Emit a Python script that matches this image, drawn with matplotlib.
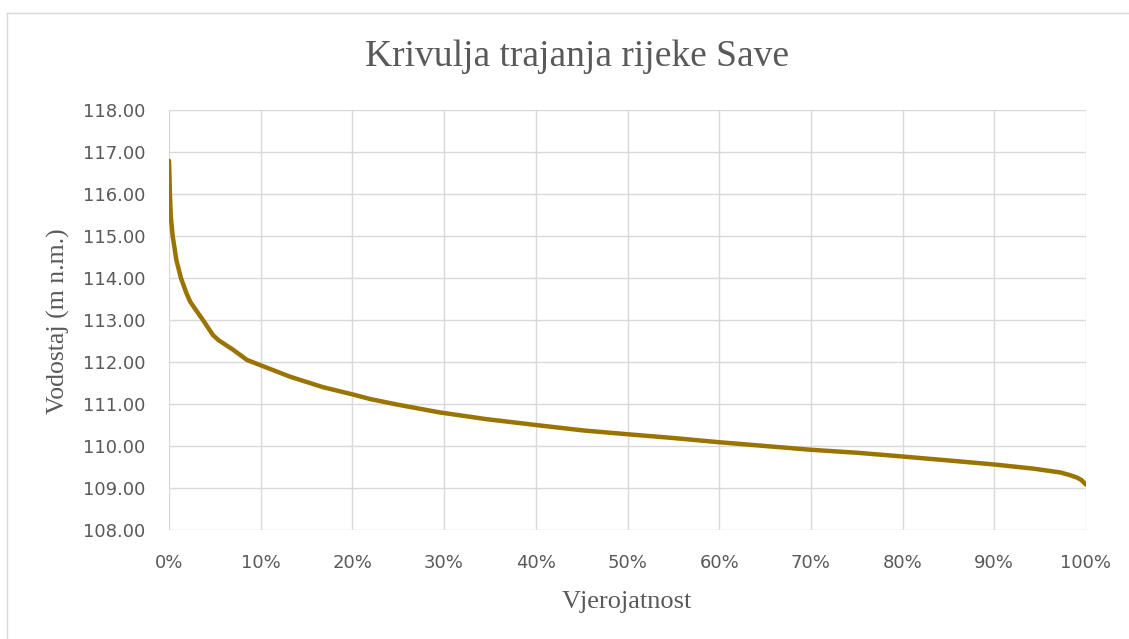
import matplotlib
matplotlib.use("Agg")
import matplotlib.pyplot as plt
from matplotlib.lines import Line2D
from matplotlib.ticker import PercentFormatter, MultipleLocator

# probability of exceedance (%) and water level (m a.s.l.)
probability = [0, 0.05, 0.1, 0.2, 0.4, 0.8, 1.3, 1.9, 2.3, 2.8, 3.7, 4.8, 5.4,
               7.0, 8.5, 9.9, 13.2, 16.8, 20, 21.9, 24.8, 29.5, 34.6, 40, 45.2,
               50, 55, 60, 65, 70, 75, 80, 84.8, 90, 94.3, 97.2, 98.2, 99,
               99.5, 100]
level = [116.79, 116.45, 116.0, 115.46, 115.0, 114.43, 114.0, 113.64, 113.44,
         113.28, 113.0, 112.64, 112.52, 112.29, 112.05, 111.93, 111.65, 111.40,
         111.23, 111.12, 110.99, 110.80, 110.64, 110.50, 110.37, 110.28, 110.19,
         110.09, 110.0, 109.91, 109.84, 109.75, 109.66, 109.56, 109.46, 109.37,
         109.31, 109.25, 109.19, 109.08]

title = "Krivulja trajanja rijeke Save"
xlabel = "Vjerojatnost"
ylabel = "Vodostaj (m n.m.)"

grey = "#595959"
grid_col = "#d9d9d9"
serif = "Liberation Serif"

fig = plt.figure(figsize=(11.29, 6.39), dpi=100)
ax = fig.add_axes([169 / 1129, 1 - 530 / 639, (1086 - 169) / 1129, (530 - 110) / 639])

ax.plot([p / 100 for p in probability], level, color="#9a7400", linewidth=3.2,
        solid_joinstyle="round", solid_capstyle="round", zorder=3)

ax.set_xlim(0, 1)
ax.set_ylim(108, 118)
ax.xaxis.set_major_locator(MultipleLocator(0.1))
ax.xaxis.set_major_formatter(PercentFormatter(1.0, decimals=0))
ax.yaxis.set_major_locator(MultipleLocator(1))
ax.yaxis.set_major_formatter(lambda v, pos: f"{v:.2f}")

ax.grid(True, color=grid_col, linewidth=1.0)
ax.set_axisbelow(True)
for s in ax.spines.values():
    s.set_visible(False)
ax.tick_params(length=0, labelsize=13, labelcolor=grey)
ax.tick_params(axis="y", pad=17)
ax.tick_params(axis="x", pad=17)

fig.text(577 / 1129, 1 - 57 / 639, title, ha="center", va="center",
         fontsize=27, color=grey, family=serif)
fig.text(627 / 1129, 1 - 602 / 639, xlabel, ha="center", va="center",
         fontsize=19, color=grey, family=serif)
fig.text(58 / 1129, 1 - 321 / 639, ylabel, ha="center", va="center",
         fontsize=18.5, color=grey, family=serif, rotation=90)

# chart area border (continues past right/bottom edge)
fig.add_artist(Line2D([7 / 1129, 1.01], [1 - 13 / 639] * 2, color=grid_col, linewidth=1))
fig.add_artist(Line2D([7 / 1129] * 2, [-0.01, 1 - 13 / 639], color=grid_col, linewidth=1))

fig.savefig("out.png", dpi=100, facecolor="white")
